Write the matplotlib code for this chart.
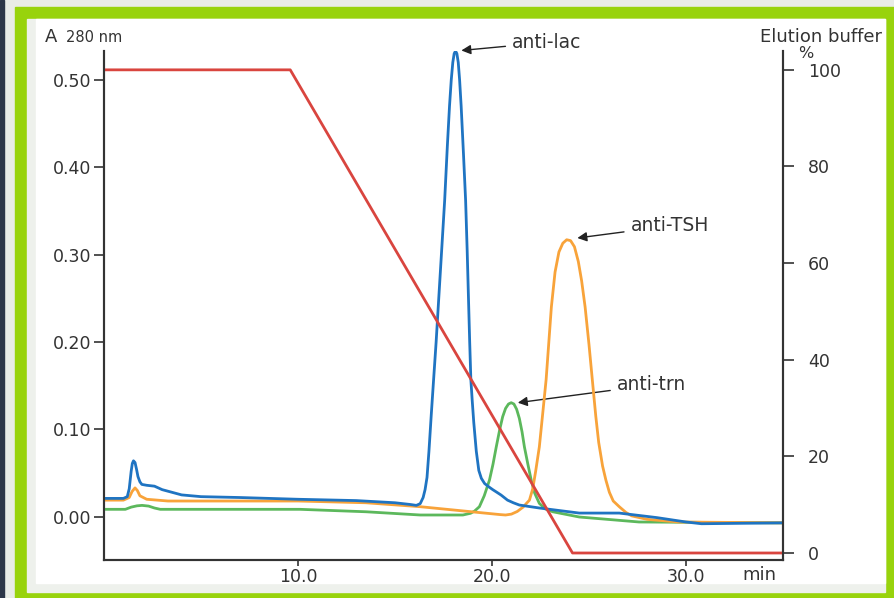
import matplotlib
matplotlib.use("Agg")
import matplotlib.pyplot as plt
from matplotlib.patches import Rectangle
from matplotlib.transforms import blended_transform_factory

# ---- data ----
blue_x = [0.0, 1.0, 1.2, 1.3, 1.4, 1.46, 1.52, 1.6, 1.68, 1.75, 1.85, 1.95, 2.2, 2.6, 3.0,
          3.5, 4.0, 5.0, 7.0, 10.0, 13.0, 15.0, 15.8, 16.1, 16.3, 16.45, 16.55, 16.65,
          16.75, 16.87, 16.99, 17.12, 17.25, 17.40, 17.56, 17.70, 17.81, 17.90, 17.98,
          18.05, 18.12, 18.19, 18.26, 18.33, 18.41, 18.53, 18.64, 18.72, 18.79, 18.85,
          18.91, 18.98, 19.06, 19.19, 19.32, 19.45, 19.62, 19.85, 20.04, 20.25, 20.47,
          20.80, 21.1, 21.41, 22.44, 24.5, 26.56, 28.5, 30.0, 30.8, 35.0]
blue_y = [0.021, 0.021, 0.023, 0.032, 0.052, 0.061, 0.064, 0.062, 0.054, 0.046, 0.040,
          0.037, 0.036, 0.035, 0.031, 0.028, 0.025, 0.023, 0.022, 0.020, 0.0185, 0.016,
          0.014, 0.013, 0.015, 0.022, 0.031, 0.045, 0.075, 0.117, 0.157, 0.200, 0.248,
          0.303, 0.362, 0.425, 0.470, 0.500, 0.520, 0.530, 0.533, 0.530, 0.520, 0.500,
          0.470, 0.415, 0.362, 0.305, 0.248, 0.200, 0.157, 0.133, 0.108, 0.075, 0.053,
          0.044, 0.038, 0.034, 0.031, 0.028, 0.0248, 0.019, 0.016, 0.0134, 0.010, 0.0042,
          0.0042, -0.001, -0.006, -0.008, -0.007]

orange_x = [0.0, 1.0, 1.3, 1.45, 1.6, 1.72, 1.85, 2.2, 3.3, 10.0, 13.5, 16.3, 20.4, 20.7,
            21.0, 21.3, 21.6, 21.93, 22.1, 22.25, 22.44, 22.6, 22.79, 22.93, 23.06, 23.25,
            23.45, 23.65, 23.85, 24.05, 24.25, 24.45, 24.62, 24.8, 25.0, 25.17, 25.35,
            25.5, 25.7, 25.87, 26.05, 26.25, 26.56, 26.9, 27.2, 28.0, 29.6, 35.0]
orange_y = [0.019, 0.019, 0.022, 0.029, 0.033, 0.030, 0.024, 0.020, 0.018, 0.018, 0.016,
            0.0115, 0.0025, 0.002, 0.003, 0.006, 0.011, 0.019, 0.032, 0.052, 0.080, 0.115,
            0.157, 0.200, 0.240, 0.280, 0.303, 0.313, 0.317, 0.316, 0.309, 0.292, 0.270,
            0.240, 0.197, 0.157, 0.115, 0.085, 0.058, 0.042, 0.028, 0.018, 0.0115, 0.005,
            0.001, -0.003, -0.006, -0.007]

green_x = [0.0, 1.1, 1.4, 1.7, 1.96, 2.3, 2.6, 2.9, 10.1, 13.5, 16.3, 18.5, 18.9, 19.1,
           19.35, 19.6, 19.87, 20.05, 20.22, 20.4, 20.55, 20.7, 20.85, 20.99, 21.13, 21.27,
           21.41, 21.55, 21.67, 21.85, 22.02, 22.2, 22.44, 22.75, 23.13, 24.5, 27.58, 35.0]
green_y = [0.0085, 0.0085, 0.011, 0.0125, 0.013, 0.0122, 0.010, 0.0085, 0.0085, 0.0057,
           0.002, 0.002, 0.004, 0.0065, 0.0115, 0.024, 0.042, 0.060, 0.080, 0.100, 0.1145,
           0.124, 0.129, 0.1305, 0.129, 0.123, 0.1125, 0.097, 0.080, 0.060, 0.042, 0.027,
           0.0153, 0.009, 0.0057, -0.0003, -0.006, -0.007]

red_x = [0.0, 9.6, 24.15, 35.0]
red_y = [100, 100, 0, 0]

left_ticks = [0.0, 0.1, 0.2, 0.3, 0.4, 0.5]
left_labels = ["0.00", "0.10", "0.20", "0.30", "0.40", "0.50"]
right_ticks = [0, 20, 40, 60, 80, 100]
x_ticks = [10, 20, 30]
x_labels = ["10.0", "20.0", "30.0"]

peak_labels = ["anti-lac", "anti-TSH", "anti-trn"]
peak_xy = [(18.42, 0.5336), (24.40, 0.319), (21.33, 0.1305)]
label_xy = [(21.05, 0.5428), (27.16, 0.3329), (26.45, 0.1508)]

# ---- figure ----
W, H = 894, 598
fig = plt.figure(figsize=(W / 100, H / 100), dpi=100, facecolor="#e9ece7")

def prect(x0, y0, x1, y1, color):
    fig.patches.append(Rectangle((x0 / W, 1 - y1 / H), (x1 - x0) / W, (y1 - y0) / H,
                                 transform=fig.transFigure, color=color, zorder=-10))

prect(0, 0, 4, H, "#2c3648")
prect(15, 7, W, H, "#98d30c")
prect(27, 19, 885, 592, "#eef1ec")
prect(36, 19, 885, 583, "#ffffff")

ax = fig.add_axes([104 / W, 1 - 560 / H, (783 - 104) / W, (560 - 51) / H])
ax.set_facecolor("white")
ax2 = ax.twinx()

lw = 2.0
ax.plot(green_x, green_y, color="#5cb85c", lw=lw, zorder=3, solid_joinstyle="round")
ax.plot(orange_x, orange_y, color="#f8a33a", lw=lw, zorder=4, solid_joinstyle="round")
ax.plot(blue_x, blue_y, color="#1f74c2", lw=lw, zorder=5, solid_joinstyle="round")
ax2.plot(red_x, red_y, color="#d9453f", lw=lw)

ax.set_xlim(0, 35)
ax.set_ylim(-0.0495, 0.533)
ax2.set_ylim(-1.45, 103.9)

fs = 12.5
tc = "#333333"
ax.set_yticks(left_ticks)
ax.set_yticklabels(left_labels)
ax.set_xticks(x_ticks)
ax.set_xticklabels(x_labels)
ax2.set_yticks(right_ticks)
ax.tick_params(axis="y", direction="out", length=7, width=1.2, pad=2, labelsize=fs,
               colors=tc)
ax.tick_params(axis="x", direction="out", length=4, width=1.2, pad=2, labelsize=fs,
               colors=tc)
ax2.tick_params(axis="y", direction="out", length=8, width=1.2, pad=10, labelsize=fs,
                colors=tc)

for a in (ax, ax2):
    a.spines["top"].set_visible(False)
    for s in ("left", "right", "bottom"):
        a.spines[s].set_color(tc)
        a.spines[s].set_linewidth(1.5)

tr = blended_transform_factory(ax.transData, ax.transAxes)
ax.text(33.8, -0.012, "min", transform=tr, ha="center", va="top", fontsize=fs + 0.5,
        color=tc)

for name, xy, txy in zip(peak_labels, peak_xy, label_xy):
    ax.annotate(name, xy=xy, xytext=txy, ha="left", va="center", fontsize=13.5, color=tc,
                annotation_clip=False,
                arrowprops=dict(arrowstyle="-|>", color="#222222", lw=1.0,
                                mutation_scale=14, shrinkA=3, shrinkB=0))

fig.text(45 / W, 1 - 42 / H, "A", fontsize=13, color=tc, ha="left", va="baseline")
fig.text(66 / W, 1 - 42 / H, "280 nm", fontsize=10.5, color=tc, ha="left",
         va="baseline")
fig.text(882 / W, 1 - 37 / H, "Elution buffer", fontsize=13, color=tc, ha="right",
         va="center")
fig.text(806 / W, 1 - 53 / H, "%", fontsize=11.5, color=tc, ha="center", va="center")

fig.savefig("out.png", dpi=100, facecolor=fig.get_facecolor())
